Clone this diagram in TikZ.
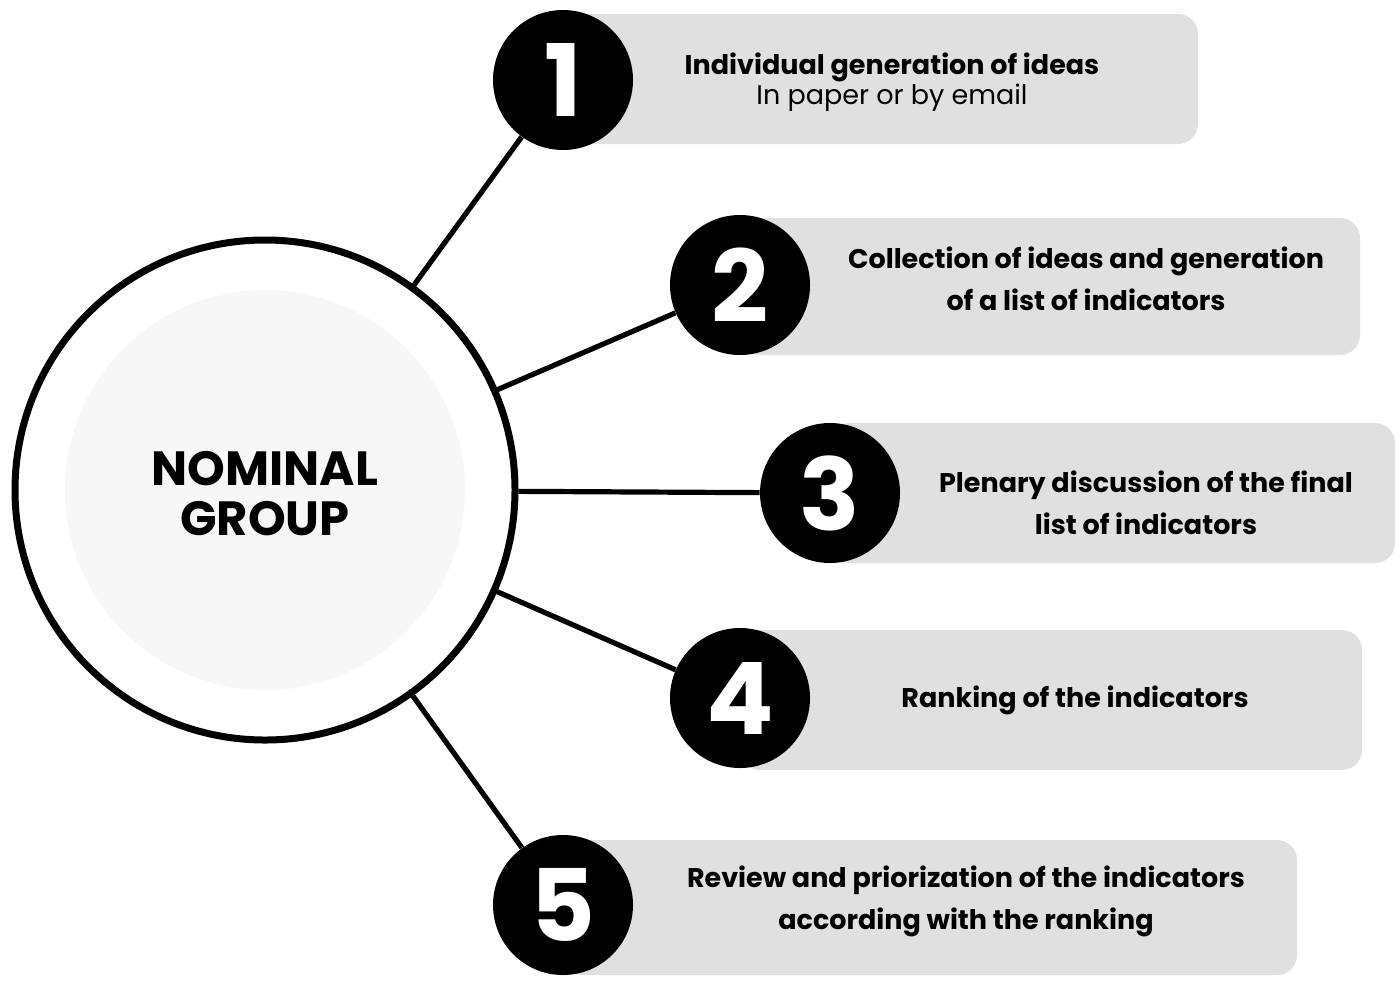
\documentclass[tikz,border=0pt]{standalone}
\usepackage{fontspec}
\setmainfont{Poppins}
\definecolor{boxg}{HTML}{E0E0E0}
\definecolor{inner}{HTML}{F7F7F7}
\begin{document}
\begin{tikzpicture}[x=0.5pt,y=-0.5pt,
  num/.style={circle,fill=black,minimum size=70pt,inner sep=0,text=white,font=\fontsize{50}{50}\bfseries\selectfont},
  lab/.style={align=center,font=\fontsize{13.5}{21}\selectfont\bfseries},
  conn/.style={line width=2.6pt}]
\useasboundingbox (0,0) rectangle (1400,980);
\fill[white] (0,0) rectangle (1400,980);
% boxes
\fill[boxg,rounded corners=10pt] (570,14) rectangle (1198,144);
\fill[boxg,rounded corners=10pt] (740,218) rectangle (1360,355);
\fill[boxg,rounded corners=10pt] (830,423) rectangle (1395,563);
\fill[boxg,rounded corners=10pt] (740,630) rectangle (1362,770);
\fill[boxg,rounded corners=10pt] (563,840) rectangle (1297,975);
% big circle
\node[circle,draw=black,line width=3.5pt,fill=white,minimum size=250pt,inner sep=0] (g) at (265,490) {};
\fill[inner] (265,490) circle (100pt);
\node[align=center,font=\fontsize{24}{25}\selectfont\bfseries] at (265,494) {NOMINAL\\GROUP};
% numbers
\node[num] (n1) at (563,80) {1};
\node[num] (n2) at (740,285) {2};
\node[num] (n3) at (830,493) {3};
\node[num] (n4) at (740,698) {4};
\node[num] (n5) at (563,905) {5};
\foreach \i in {1,...,5} \draw[conn] (g) -- (n\i);
% labels
\node[align=center] at (892,82) {{\fontsize{13.5}{21}\selectfont\bfseries Individual generation of ideas}\\{\fontsize{13.5}{21}\selectfont In paper or by email}};
\node[lab] at (1086,279) {Collection of ideas and generation\\of a list of indicators};
\node[lab] at (1146,503) {Plenary discussion of the final\\list of indicators};
\node[lab] at (1075,700) {Ranking of the indicators};
\node[lab] at (966,901) {Review and priorization of the indicators\\according with the ranking};
\end{tikzpicture}
\end{document}
